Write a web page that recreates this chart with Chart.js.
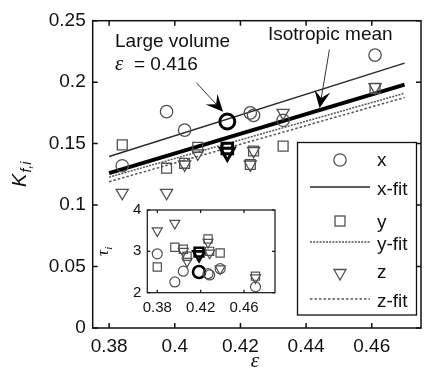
<!DOCTYPE html>
<html>
<head>
<meta charset="utf-8">
<script src="https://cdn.jsdelivr.net/npm/chart.js@4.4.1/dist/chart.umd.min.js"></script>
<style>
  html, body { margin: 0; padding: 0; background: #fff; overflow: hidden; }
  #wrap { position: relative; width: 425px; height: 378px; overflow: hidden; }
  #main { position: absolute; left: 0; top: 0; }
  #inset { position: absolute; left: 95px; top: 195px; }
</style>
</head>
<body>
<div id="wrap">
  <canvas id="main" width="432" height="378"></canvas>
  <canvas id="inset" width="190" height="130"></canvas>
</div>
<script>
// ── Datos: porosidad por muestra y K_f en cada dirección ─────
const eps = [0.384, 0.3975, 0.403, 0.407, 0.416, 0.423, 0.424, 0.433, 0.461];
const kX  = [0.132, 0.176, 0.161, null, 0.168, 0.175, 0.173, 0.169, 0.222];
const kY  = [0.149, 0.130, 0.134, 0.147, 0.146, 0.133, 0.144, 0.148, 0.195];
const kZ  = [0.110, 0.110, 0.133, 0.142, 0.143, 0.133, 0.144, 0.175, 0.196];
const bigIdx = 4; // muestra de gran volumen (eps = 0.416)

// Rectas de ajuste (extremos)
const fitEps  = [0.38, 0.47];
const xFit    = [0.1395, 0.2155];
const yFit    = [0.1227, 0.1910];
const zFit    = [0.1190, 0.1875];
const meanFit = [0.1260, 0.1980];

// Tortuosidad (inset)
const epsIn = [0.380, 0.3962, 0.404, 0.4075, 0.4185, 0.4268, 0.4283, 0.438, 0.4706];
const tauX  = [2.94, 2.26, 2.52, null, 2.50, 2.46, 2.43, 2.58, 2.14];
const tauY  = [2.62, 3.10, 3.05, 2.88, 2.98, 3.30, 3.00, 2.96, 2.40];
const tauZ  = [3.50, 3.68, 3.00, 2.76, 2.92, 3.22, 2.96, 2.58, 2.36];

// Ticks
const epsTicks   = [0.38, 0.40, 0.42, 0.44, 0.46];
const kTicks     = [0, 0.05, 0.1, 0.15, 0.2, 0.25];
const epsInTicks = [0.38, 0.42, 0.46];
const tauTicks   = [2, 3, 4];

// ── Estilo ────────────────────────────────────────────────────
const SANS  = '"Liberation Sans", Arial, sans-serif';
const SERIF = '"Liberation Serif", "Times New Roman", serif';
const INK   = '#111';
const GREY  = '#505050';
const fmt = v => String(Math.round(v * 1000) / 1000);

function pts(xs, ys) {
    return xs.map((v, i) => ({ x: v, y: ys[i], big: i === bigIdx })).filter(p => p.y !== null);
}
function fitLine(ys) {
    return fitEps.map((v, i) => ({ x: v, y: ys[i] }));
}
function markerSet(label, data, style, r, rBig, bw, bwBig) {
    return {
        label, data,
        pointStyle: style,
        rotation: style === 'triangle' ? 180 : 0,
        pointRadius: c => (c.raw && c.raw.big ? rBig : r),
        pointBorderWidth: c => (c.raw && c.raw.big ? bwBig : bw),
        pointBorderColor: c => (c.raw && c.raw.big ? '#000' : GREY),
        pointBackgroundColor: 'rgba(0,0,0,0)',
        showLine: false,
    };
}
function lineSet(label, data, color, width, dash) {
    return {
        label, data, showLine: true, pointRadius: 0,
        borderColor: color, borderWidth: width, borderDash: dash || [],
    };
}

// ── Flecha con punta rellena ─────────────────────────────────
function arrow(ctx, x0, y0, x1, y1) {
    const ang = Math.atan2(y1 - y0, x1 - x0);
    const L = 17, W = 8;
    ctx.strokeStyle = '#333';
    ctx.lineWidth = 1;
    ctx.beginPath();
    ctx.moveTo(x0, y0);
    ctx.lineTo(x1 - Math.cos(ang) * L * 0.6, y1 - Math.sin(ang) * L * 0.6);
    ctx.stroke();
    const bx = x1 - Math.cos(ang) * L, by = y1 - Math.sin(ang) * L;
    const nx = -Math.sin(ang) * W, ny = Math.cos(ang) * W;
    ctx.fillStyle = '#000';
    ctx.beginPath();
    ctx.moveTo(x1, y1);
    ctx.lineTo(bx + nx, by + ny);
    ctx.lineTo(x1 - Math.cos(ang) * L * 0.6, y1 - Math.sin(ang) * L * 0.6);
    ctx.lineTo(bx - nx, by - ny);
    ctx.closePath();
    ctx.fill();
}

// ── Marco, ticks hacia dentro, títulos, anotaciones y leyenda ─
const mainDecor = {
    id: 'mainDecor',
    afterDatasetsDraw(chart) {
        const { ctx, chartArea: a, scales: { x, y } } = chart;
        ctx.save();

        ctx.strokeStyle = INK;
        ctx.lineWidth = 1.5;
        ctx.strokeRect(a.left, a.top, a.right - a.left, a.bottom - a.top);
        ctx.beginPath();
        epsTicks.forEach(v => {
            const px = x.getPixelForValue(v);
            ctx.moveTo(px, a.bottom); ctx.lineTo(px, a.bottom - 5);
            ctx.moveTo(px, a.top);    ctx.lineTo(px, a.top + 5);
        });
        kTicks.forEach(v => {
            const py = y.getPixelForValue(v);
            ctx.moveTo(a.left, py);  ctx.lineTo(a.left + 5, py);
            ctx.moveTo(a.right, py); ctx.lineTo(a.right - 5, py);
        });
        ctx.stroke();

        // Título eje y: K_{f,i}
        ctx.fillStyle = INK;
        ctx.save();
        ctx.translate(26, (a.top + a.bottom) / 2);
        ctx.rotate(-Math.PI / 2);
        ctx.font = 'italic 20px ' + SANS;
        const wK = ctx.measureText('K').width;
        ctx.font = 'italic 14px ' + SANS;
        const wS = ctx.measureText('f,i').width;
        const x0 = -(wK + wS + 1) / 2;
        ctx.textBaseline = 'alphabetic';
        ctx.font = 'italic 20px ' + SANS;
        ctx.fillText('K', x0, 0);
        ctx.font = 'italic 14px ' + SANS;
        ctx.fillText('f,i', x0 + wK + 1, 5);
        ctx.restore();

        // Título eje x: ε
        ctx.font = 'italic 21px ' + SERIF;
        ctx.textAlign = 'center';
        ctx.fillText('ε', 255, 367);
        ctx.textAlign = 'left';

        // Anotaciones
        ctx.font = '19px ' + SANS;
        ctx.fillText('Large volume', 115, 47);
        ctx.fillText('Isotropic mean', 268, 40);
        ctx.font = 'italic 21px ' + SERIF;
        ctx.fillText('ε', 115, 70);
        ctx.font = '19px ' + SANS;
        ctx.fillText('= 0.416', 134, 70);

        arrow(ctx, x.getPixelForValue(0.4066), y.getPixelForValue(0.1995),
                   x.getPixelForValue(0.4147), y.getPixelForValue(0.1760));
        arrow(ctx, x.getPixelForValue(0.4471), y.getPixelForValue(0.2264),
                   x.getPixelForValue(0.4441), y.getPixelForValue(0.1790));

        // Leyenda
        const L = { left: 297.5, top: 142.5, right: 416.5, bottom: 315 };
        ctx.fillStyle = '#fff';
        ctx.fillRect(L.left, L.top, L.right - L.left, L.bottom - L.top);
        ctx.strokeStyle = INK;
        ctx.lineWidth = 1.3;
        ctx.strokeRect(L.left, L.top, L.right - L.left, L.bottom - L.top);

        const mx = 340, rows = [160, 187, 221, 242, 273, 299], base = [166, 195, 228, 250, 278, 307];
        const labels = ['x', 'x-fit', 'y', 'y-fit', 'z', 'z-fit'];
        ctx.strokeStyle = GREY;
        ctx.lineWidth = 1.3;
        ctx.beginPath(); ctx.arc(mx, rows[0], 6.2, 0, Math.PI * 2); ctx.stroke();
        ctx.strokeRect(mx - 5, rows[2] - 5, 10, 10);
        ctx.beginPath();
        ctx.moveTo(mx - 6, rows[4] - 3.5); ctx.lineTo(mx + 6, rows[4] - 3.5); ctx.lineTo(mx, rows[4] + 7);
        ctx.closePath(); ctx.stroke();

        const seg = (yy, color, w, dash) => {
            ctx.strokeStyle = color; ctx.lineWidth = w; ctx.setLineDash(dash);
            ctx.beginPath(); ctx.moveTo(310, yy); ctx.lineTo(370, yy); ctx.stroke();
            ctx.setLineDash([]);
        };
        seg(rows[1], '#2a2a2a', 1.5, []);
        seg(rows[3], '#555', 1.5, [2, 1.2]);
        seg(rows[5], '#555', 1.5, [2.5, 2]);

        ctx.fillStyle = INK;
        ctx.font = '19px ' + SANS;
        labels.forEach((t, i) => ctx.fillText(t, 377, base[i]));

        ctx.restore();
    },
};

new Chart(document.getElementById('main'), {
    type: 'scatter',
    data: {
        datasets: [
            markerSet('x', pts(eps, kX), 'circle', 6.2, 7.5, 1.3, 3),
            markerSet('y', pts(eps, kY), 'rect', 7, 7.5, 1.3, 3),
            markerSet('z', pts(eps, kZ), 'triangle', 7, 8, 1.3, 3),
            lineSet('x-fit', fitLine(xFit), '#2a2a2a', 1.5),
            lineSet('y-fit', fitLine(yFit), '#555', 1.5, [2, 1.2]),
            lineSet('z-fit', fitLine(zFit), '#555', 1.5, [2.5, 2]),
            lineSet('Isotropic mean', fitLine(meanFit), '#000', 4),
        ],
    },
    options: {
        responsive: false,
        animation: false,
        devicePixelRatio: 1,
        layout: { padding: { top: 20.7, right: 6, left: 0, bottom: 0 } },
        plugins: { legend: { display: false }, tooltip: { enabled: false } },
        scales: {
            x: {
                type: 'linear', min: 0.375, max: 0.475,
                afterBuildTicks: s => { s.ticks = epsTicks.map(v => ({ value: v })); },
                afterFit: s => { s.height = 50; },
                grid: { display: false, drawTicks: false },
                border: { display: false },
                ticks: { font: { family: SANS, size: 19 }, color: INK, padding: 7, maxRotation: 0, autoSkip: false, callback: v => fmt(v) },
            },
            y: {
                type: 'linear', min: 0, max: 0.25,
                afterBuildTicks: s => { s.ticks = kTicks.map(v => ({ value: v })); },
                afterFit: s => { s.width = 92.7; },
                grid: { display: false, drawTicks: false },
                border: { display: false },
                ticks: { font: { family: SANS, size: 19 }, color: INK, padding: 7, autoSkip: false, callback: v => fmt(v) },
            },
        },
    },
    plugins: [mainDecor],
});

// ── Inset: tortuosidad τ_i frente a ε ────────────────────────
const insetDecor = {
    id: 'insetDecor',
    beforeDatasetsDraw(chart) {
        const { ctx, chartArea: a } = chart;
        ctx.save();
        ctx.fillStyle = '#fff';
        ctx.fillRect(a.left, a.top, a.right - a.left, a.bottom - a.top);
        ctx.restore();
    },
    afterDatasetsDraw(chart) {
        const { ctx, chartArea: a, scales: { x, y } } = chart;
        ctx.save();
        ctx.strokeStyle = INK;
        ctx.lineWidth = 1.2;
        ctx.strokeRect(a.left, a.top, a.right - a.left, a.bottom - a.top);
        ctx.beginPath();
        epsInTicks.forEach(v => {
            const px = x.getPixelForValue(v);
            ctx.moveTo(px, a.bottom); ctx.lineTo(px, a.bottom - 3);
            ctx.moveTo(px, a.top);    ctx.lineTo(px, a.top + 3);
        });
        tauTicks.forEach(v => {
            const py = y.getPixelForValue(v);
            ctx.moveTo(a.left, py);  ctx.lineTo(a.left + 3, py);
            ctx.moveTo(a.right, py); ctx.lineTo(a.right - 3, py);
        });
        ctx.stroke();

        ctx.fillStyle = INK;
        ctx.translate(13, (a.top + a.bottom) / 2);
        ctx.rotate(-Math.PI / 2);
        ctx.font = 'italic 17px ' + SERIF;
        const wT = ctx.measureText('τ').width;
        ctx.font = 'italic 11px ' + SERIF;
        const wI = ctx.measureText('i').width;
        const x0 = -(wT + wI) / 2;
        ctx.font = 'italic 17px ' + SERIF;
        ctx.fillText('τ', x0, 0);
        ctx.font = 'italic 11px ' + SERIF;
        ctx.fillText('i', x0 + wT, 4);
        ctx.restore();
    },
};

new Chart(document.getElementById('inset'), {
    type: 'scatter',
    data: {
        datasets: [
            markerSet('x', pts(epsIn, tauX), 'circle', 5, 6, 1.2, 2.6),
            markerSet('y', pts(epsIn, tauY), 'rect', 5.8, 6.2, 1.2, 2.6),
            markerSet('z', pts(epsIn, tauZ), 'triangle', 5.8, 6.5, 1.2, 2.6),
        ],
    },
    options: {
        responsive: false,
        animation: false,
        devicePixelRatio: 1,
        layout: { padding: { top: 14.3, right: 10, left: 0, bottom: 0 } },
        plugins: { legend: { display: false }, tooltip: { enabled: false } },
        scales: {
            x: {
                type: 'linear', min: 0.3708, max: 0.4886,
                afterBuildTicks: s => { s.ticks = epsInTicks.map(v => ({ value: v })); },
                afterFit: s => { s.height = 32.3; },
                grid: { display: false, drawTicks: false },
                border: { display: false },
                ticks: { font: { family: SANS, size: 15 }, color: INK, padding: 6, maxRotation: 0, autoSkip: false, callback: v => fmt(v) },
            },
            y: {
                type: 'linear', min: 2, max: 4,
                afterBuildTicks: s => { s.ticks = tauTicks.map(v => ({ value: v })); },
                afterFit: s => { s.width = 52.3; },
                grid: { display: false, drawTicks: false },
                border: { display: false },
                ticks: { font: { family: SANS, size: 15 }, color: INK, padding: 6, autoSkip: false, callback: v => fmt(v) },
            },
        },
    },
    plugins: [insetDecor],
});
</script>
</body>
</html>
